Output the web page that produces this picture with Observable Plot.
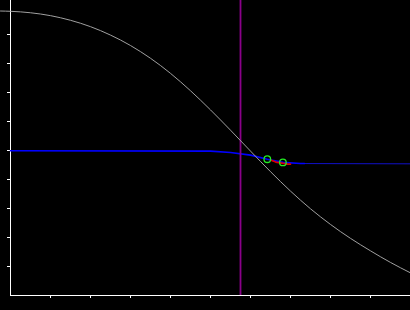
<!DOCTYPE html>
<html>
<head>
<meta charset="utf-8">
<script src="https://cdn.jsdelivr.net/npm/d3@7"></script>
<script src="https://cdn.jsdelivr.net/npm/@observablehq/plot@0.6"></script>
<style>
  html, body { margin: 0; padding: 0; background: #000; }
  #chart svg { display: block; }
</style>
</head>
<body>
<div id="chart"></div>
<script>
// Gray falling curve (x, y)
const curveX = [-0.25, 0, 0.5, 1.0, 1.5, 2.0, 2.5, 3.0, 3.5, 4.0, 4.5, 5.0, 5.5, 6.0, 6.5, 7.0, 7.5, 8.0, 8.5, 9.0, 9.5, 10.0];
const curveY = [9.81, 9.80, 9.75, 9.65, 9.49, 9.27, 8.98, 8.62, 8.18, 7.66, 7.06, 6.40, 5.70, 4.98, 4.27, 3.60, 2.99, 2.45, 1.97, 1.54, 1.14, 0.78];

// Blue near-horizontal line (thick part)
const blueX = [0, 5.0, 5.5, 6.0, 6.42, 6.81, 7.25, 7.35];
const blueY = [4.99, 4.98, 4.93, 4.84, 4.70, 4.59, 4.55, 4.55];

// Blue line continuation (thin part)
const blueTailX = [7.35, 10.0];
const blueTailY = [4.55, 4.54];

// Red short segment
const redX = [6.5, 6.63, 6.93, 7.0];
const redY = [4.67, 4.60, 4.53, 4.53];

// Green circles
const dotX = [6.42, 6.81];
const dotY = [4.70, 4.59];

// Vertical purple marker
const markerX = [5.75];

// Tick positions (no labels)
const xTicks = [1, 2, 3, 4, 5, 6, 7, 8, 9];
const yTicks = [1, 2, 3, 4, 5, 6, 7, 8, 9];

const curve = curveX.map((x, i) => ({x, y: curveY[i]}));
const blue = blueX.map((x, i) => ({x, y: blueY[i]}));
const blueTail = blueTailX.map((x, i) => ({x, y: blueTailY[i]}));
const red = redX.map((x, i) => ({x, y: redY[i]}));
const dots = dotX.map((x, i) => ({x, y: dotY[i]}));

const chart = Plot.plot({
  width: 410,
  height: 310,
  marginLeft: 10,
  marginRight: 0,
  marginTop: 0,
  marginBottom: 15,
  x: {domain: [0, 10], label: null},
  y: {domain: [0, 295 / 29], label: null},
  style: {background: "#000", color: "#fff"},
  marks: [
    Plot.axisX({ticks: xTicks, tickSize: 3, tickFormat: () => "", label: null, stroke: "#fff", strokeOpacity: 1}),
    Plot.axisY({ticks: yTicks, tickSize: 3, tickFormat: () => "", label: null, stroke: "#fff", strokeOpacity: 1}),
    Plot.ruleX([0], {stroke: "#fff"}),
    Plot.ruleY([0], {stroke: "#fff"}),
    Plot.line(blueTail, {x: "x", y: "y", stroke: "#1010c8", strokeWidth: 1}),
    Plot.line(blue, {x: "x", y: "y", stroke: "#0000ff", strokeWidth: 1.6}),
    Plot.line(red, {x: "x", y: "y", stroke: "#dd0000", strokeWidth: 1.6}),
    Plot.ruleX(markerX, {stroke: "#8a008a", strokeWidth: 1.8}),
    Plot.line(curve, {x: "x", y: "y", stroke: "#a0a0a0", strokeWidth: 1, curve: "monotone-x"}),
    Plot.dot(dots, {x: "x", y: "y", r: 3.3, stroke: "#22ee22", strokeWidth: 1.3, fill: "none"})
  ]
});
document.getElementById("chart").appendChild(chart);
</script>
</body>
</html>
